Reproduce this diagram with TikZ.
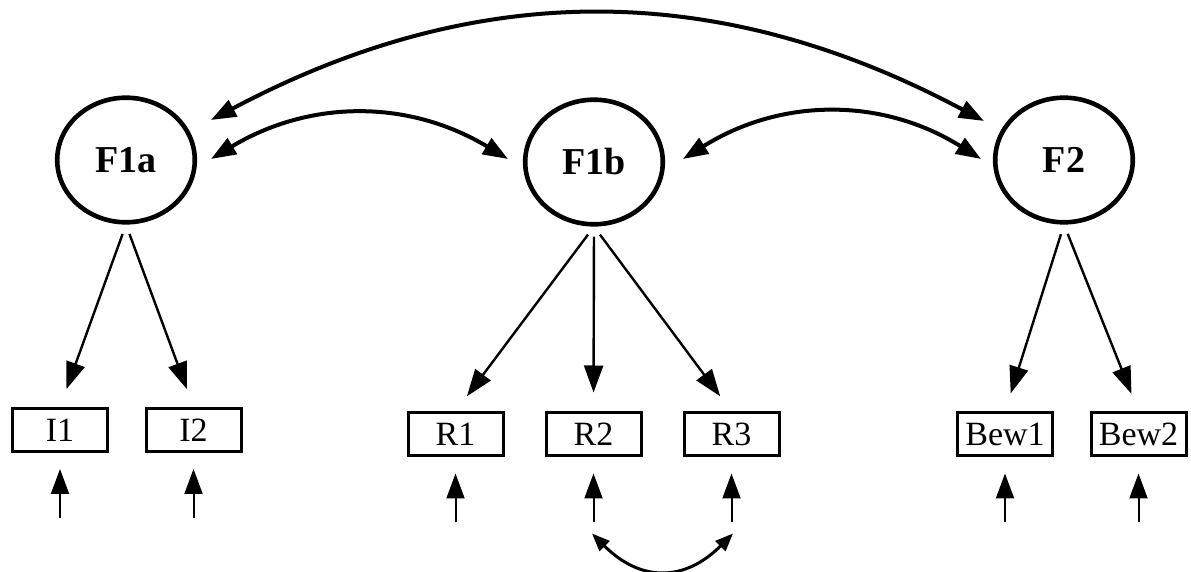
\documentclass[tikz,border=0pt]{standalone}
\usepackage{fontspec}
\setmainfont{Liberation Serif}
\usepackage{tikz}
\usetikzlibrary{shapes.geometric,positioning,arrows.meta}

\tikzset{
	latent/.style={ellipse, draw, line width=2.3pt, minimum width=68.8pt, minimum height=62.3pt, inner sep=0pt, font=\bfseries\fontsize{19}{22}\selectfont},
	manifest/.style={rectangle, draw, line width=1.5pt, minimum width=47.5pt, minimum height=21.5pt, inner sep=0pt, font=\fontsize{17}{20}\selectfont},
	bigtip/.tip={Triangle[length=13.5pt, width=9.5pt]},
	covtip/.tip={Triangle[length=12.5pt, width=9pt]},
	smalltip/.tip={Triangle[length=9pt, width=7pt]},
	load/.style={-bigtip, line width=1.2pt, shorten <=5pt, shorten >=9.5pt},
	err/.style={-covtip, line width=1pt, shorten >=8pt},
	cov/.style={covtip-covtip, line width=2pt},
	covsmall/.style={smalltip-smalltip, line width=1.5pt}
}

\begin{document}
\begin{tikzpicture}[x=0.5pt,y=-0.5pt]
		\useasboundingbox (0,0) rectangle (1191,572);
		
		%factors
		\node[latent] (F1a) at (126,160) {F1a};
		\node[latent] (F1b) at (594,162) {F1b};
		\node[latent] (F2) at (1064,160) {F2};
		
		%indicators
		\node[manifest] (I1) at (60,430) {I1};
		\node[manifest] (I2) at (193.5,430) {I2};
		\node[manifest] (R1) at (455.5,434.5) {R1};
		\node[manifest] (R2) at (593.5,434.5) {R2};
		\node[manifest] (R3) at (731.5,434.5) {R3};
		\node[manifest] (Bew1) at (1005,434.5) {Bew1};
		\node[manifest] (Bew2) at (1138.5,434.5) {Bew2};
		
		%loadings
		\foreach \f/\b in {F1a/I1,F1a/I2,F1b/R1,F1b/R2,F1b/R3,F2/Bew1,F2/Bew2}{
			\draw[load] (\f.south) -- (\b.north);
		}
		
		%error terms
		\foreach \b in {I1,I2,R1,R2,R3,Bew1,Bew2}{
			\coordinate[below=32.5pt of \b] (e\b);
			\draw[err] (e\b) -- (\b.south);
		}
		
		%covariances
		\draw[cov] ([shift={(85,-40)}]F1a.center) to[bend left=28] ([shift={(-80,-39)}]F2.center);
		\draw[cov] ([shift={(85,-1)}]F1a.center) to[bend left=31] ([shift={(-86,-3)}]F1b.center);
		\draw[cov] ([shift={(89,-3)}]F1b.center) to[bend left=32] ([shift={(-83,-1)}]F2.center);
		
		%correlated errors
		\draw[covsmall] ([shift={(-1.5,11)}]eR2) to[bend right=45, looseness=1.25] ([shift={(1.5,11)}]eR3);
		
\end{tikzpicture}
\end{document}
